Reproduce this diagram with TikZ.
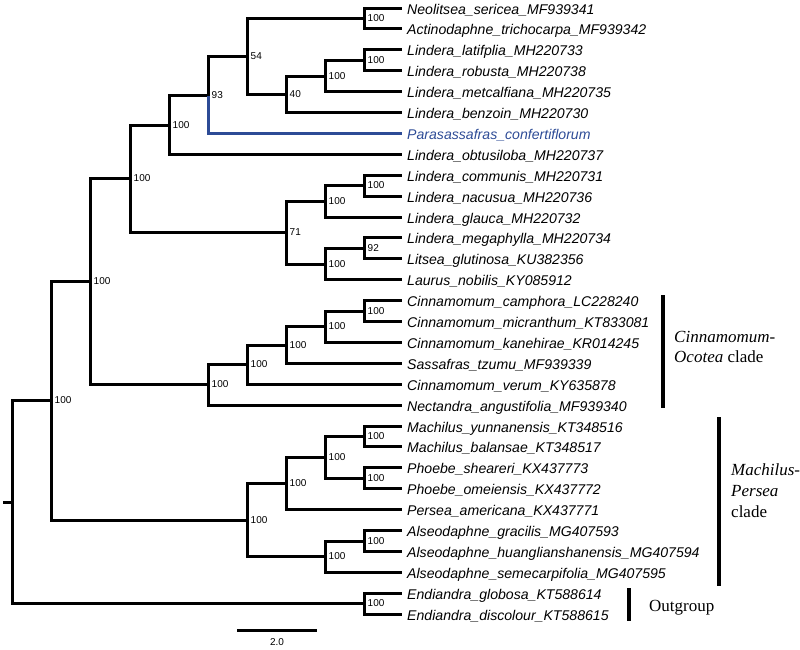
\documentclass[tikz,border=0pt]{standalone}
\usepackage{fontspec}
\setmainfont{Liberation Serif}
\setsansfont{Liberation Sans}
\usepackage{tikz}
\definecolor{paraBlue}{RGB}{45,75,150}
\tikzstyle{branch} = [line width=3pt, draw=black]
\tikzstyle{bluebranch} = [line width=2.2pt, draw=paraBlue]
\tikzstyle{taxon} = [anchor=west, inner xsep=5pt, inner ysep=0pt, text height=12pt, text depth=0pt, font=\sffamily\itshape\fontsize{14.1}{16}\selectfont]
\tikzstyle{support} = [anchor=west, inner sep=0pt, xshift=3pt, font=\sffamily\fontsize{10}{12}\selectfont]
\tikzstyle{cladebar} = [line width=3.5pt, draw=black]
\tikzstyle{cladename} = [anchor=base west, inner sep=0pt, font=\fontsize{17}{20}\selectfont]

\begin{document}
\begin{tikzpicture}[x=1pt, y=-1pt]
\useasboundingbox (0,0) rectangle (800,649);

% taxa
\node (neolitsea) [taxon] at (402,8.5) {Neolitsea\_sericea\_MF939341};
\node (actinodaphne) [taxon] at (402,28.5) {Actinodaphne\_trichocarpa\_MF939342};
\node (latifplia) [taxon] at (402,49.5) {Lindera\_latifplia\_MH220733};
\node (robusta) [taxon] at (402,70.5) {Lindera\_robusta\_MH220738};
\node (metcalfiana) [taxon] at (402,91.5) {Lindera\_metcalfiana\_MH220735};
\node (benzoin) [taxon] at (402,112.5) {Lindera\_benzoin\_MH220730};
\node (parasassafras) [taxon, text=paraBlue] at (402,133.5) {Parasassafras\_confertiflorum};
\node (obtusiloba) [taxon] at (402,154.5) {Lindera\_obtusiloba\_MH220737};
\node (communis) [taxon] at (402,175.5) {Lindera\_communis\_MH220731};
\node (nacusua) [taxon] at (402,196.5) {Lindera\_nacusua\_MH220736};
\node (glauca) [taxon] at (402,217.5) {Lindera\_glauca\_MH220732};
\node (megaphylla) [taxon] at (402,237.5) {Lindera\_megaphylla\_MH220734};
\node (litsea) [taxon] at (402,258.5) {Litsea\_glutinosa\_KU382356};
\node (laurus) [taxon] at (402,279.5) {Laurus\_nobilis\_KY085912};
\node (camphora) [taxon] at (402,300.5) {Cinnamomum\_camphora\_LC228240};
\node (micranthum) [taxon] at (402,321.5) {Cinnamomum\_micranthum\_KT833081};
\node (kanehirae) [taxon] at (402,342.5) {Cinnamomum\_kanehirae\_KR014245};
\node (sassafras) [taxon] at (402,363.5) {Sassafras\_tzumu\_MF939339};
\node (verum) [taxon] at (402,384.5) {Cinnamomum\_verum\_KY635878};
\node (nectandra) [taxon] at (402,405.5) {Nectandra\_angustifolia\_MF939340};
\node (yunnanensis) [taxon] at (402,426.5) {Machilus\_yunnanensis\_KT348516};
\node (balansae) [taxon] at (402,446.5) {Machilus\_balansae\_KT348517};
\node (sheareri) [taxon] at (402,467.5) {Phoebe\_sheareri\_KX437773};
\node (omeiensis) [taxon] at (402,488.5) {Phoebe\_omeiensis\_KX437772};
\node (persea) [taxon] at (402,509.5) {Persea\_americana\_KX437771};
\node (gracilis) [taxon] at (402,530.5) {Alseodaphne\_gracilis\_MG407593};
\node (huanglianshanensis) [taxon] at (402,551.5) {Alseodaphne\_huanglianshanensis\_MG407594};
\node (semecarpifolia) [taxon] at (402,572.5) {Alseodaphne\_semecarpifolia\_MG407595};
\node (globosa) [taxon] at (402,593.5) {Endiandra\_globosa\_KT588614};
\node (discolour) [taxon] at (402,614.5) {Endiandra\_discolour\_KT588615};

% internal nodes
\coordinate (neoAct) at (364.5,18.5);
\coordinate (latRob) at (364.5,60.5);
\coordinate (latMet) at (325.5,76.5);
\coordinate (latBen) at (286.5,94.5);
\coordinate (neoBen) at (247.5,56.5);
\coordinate (neoPara) at (208.5,95.5);
\coordinate (neoObt) at (169.5,125.5);
\coordinate (comNac) at (364.5,185.5);
\coordinate (comGla) at (325.5,201.5);
\coordinate (megLit) at (364.5,248.5);
\coordinate (megLau) at (325.5,264.5);
\coordinate (comLau) at (286.5,232.5);
\coordinate (linderaClade) at (130.5,178.5);
\coordinate (camMic) at (364.5,311.5);
\coordinate (camKan) at (325.5,326.5);
\coordinate (camSas) at (286.5,345.5);
\coordinate (camVer) at (247.5,364.5);
\coordinate (cinnOcotea) at (208.5,384.5);
\coordinate (laurusGroup) at (90.5,281.5);
\coordinate (yunBal) at (364.5,436.5);
\coordinate (sheOme) at (364.5,478.5);
\coordinate (yunOme) at (325.5,457.5);
\coordinate (yunPer) at (286.5,483.5);
\coordinate (graHua) at (364.5,541.5);
\coordinate (graSem) at (325.5,556.5);
\coordinate (machPersea) at (247.5,520.5);
\coordinate (ingroup) at (51.5,400.5);
\coordinate (outgroup) at (364.5,603.5);
\coordinate (root) at (12.5,502.5);
\coordinate (rootStub) at (3,502.5);

% branches
\draw [branch] (rootStub) -- (root);
\draw [branch] (root) |- (ingroup);
\draw [branch] (root) |- (outgroup);
\draw [branch] (outgroup) |- (globosa.west);
\draw [branch] (outgroup) |- (discolour.west);

\draw [branch] (ingroup) |- (laurusGroup);
\draw [branch] (ingroup) |- (machPersea);

\draw [branch] (laurusGroup) |- (linderaClade);
\draw [branch] (laurusGroup) |- (cinnOcotea);

\draw [branch] (linderaClade) |- (neoObt);
\draw [branch] (linderaClade) |- (comLau);
\draw [branch] (neoObt) |- (neoPara);
\draw [branch] (neoObt) |- (obtusiloba.west);
\draw [branch] (neoPara) |- (neoBen);
\draw [bluebranch] (neoPara) |- (parasassafras.west);
\draw [branch] (neoBen) |- (neoAct);
\draw [branch] (neoBen) |- (latBen);
\draw [branch] (neoAct) |- (neolitsea.west);
\draw [branch] (neoAct) |- (actinodaphne.west);
\draw [branch] (latBen) |- (latMet);
\draw [branch] (latBen) |- (benzoin.west);
\draw [branch] (latMet) |- (latRob);
\draw [branch] (latMet) |- (metcalfiana.west);
\draw [branch] (latRob) |- (latifplia.west);
\draw [branch] (latRob) |- (robusta.west);

\draw [branch] (comLau) |- (comGla);
\draw [branch] (comLau) |- (megLau);
\draw [branch] (comGla) |- (comNac);
\draw [branch] (comGla) |- (glauca.west);
\draw [branch] (comNac) |- (communis.west);
\draw [branch] (comNac) |- (nacusua.west);
\draw [branch] (megLau) |- (megLit);
\draw [branch] (megLau) |- (laurus.west);
\draw [branch] (megLit) |- (megaphylla.west);
\draw [branch] (megLit) |- (litsea.west);

\draw [branch] (cinnOcotea) |- (camVer);
\draw [branch] (cinnOcotea) |- (nectandra.west);
\draw [branch] (camVer) |- (camSas);
\draw [branch] (camVer) |- (verum.west);
\draw [branch] (camSas) |- (camKan);
\draw [branch] (camSas) |- (sassafras.west);
\draw [branch] (camKan) |- (camMic);
\draw [branch] (camKan) |- (kanehirae.west);
\draw [branch] (camMic) |- (camphora.west);
\draw [branch] (camMic) |- (micranthum.west);

\draw [branch] (machPersea) |- (yunPer);
\draw [branch] (machPersea) |- (graSem);
\draw [branch] (yunPer) |- (yunOme);
\draw [branch] (yunPer) |- (persea.west);
\draw [branch] (yunOme) |- (yunBal);
\draw [branch] (yunOme) |- (sheOme);
\draw [branch] (yunBal) |- (yunnanensis.west);
\draw [branch] (yunBal) |- (balansae.west);
\draw [branch] (sheOme) |- (sheareri.west);
\draw [branch] (sheOme) |- (omeiensis.west);
\draw [branch] (graSem) |- (graHua);
\draw [branch] (graSem) |- (semecarpifolia.west);
\draw [branch] (graHua) |- (gracilis.west);
\draw [branch] (graHua) |- (huanglianshanensis.west);

% support values
\node (neoActSup) [support] at (neoAct) {100};
\node (latRobSup) [support] at (latRob) {100};
\node (latMetSup) [support] at (latMet) {100};
\node (latBenSup) [support] at (latBen) {40};
\node (neoBenSup) [support] at (neoBen) {54};
\node (neoParaSup) [support] at (neoPara) {93};
\node (neoObtSup) [support] at (neoObt) {100};
\node (comNacSup) [support] at (comNac) {100};
\node (comGlaSup) [support] at (comGla) {100};
\node (megLitSup) [support] at (megLit) {92};
\node (megLauSup) [support] at (megLau) {100};
\node (comLauSup) [support] at (comLau) {71};
\node (linderaCladeSup) [support] at (linderaClade) {100};
\node (camMicSup) [support] at (camMic) {100};
\node (camKanSup) [support] at (camKan) {100};
\node (camSasSup) [support] at (camSas) {100};
\node (camVerSup) [support] at (camVer) {100};
\node (cinnOcoteaSup) [support] at (cinnOcotea) {100};
\node (laurusGroupSup) [support] at (laurusGroup) {100};
\node (yunBalSup) [support] at (yunBal) {100};
\node (sheOmeSup) [support] at (sheOme) {100};
\node (yunOmeSup) [support] at (yunOme) {100};
\node (yunPerSup) [support] at (yunPer) {100};
\node (graHuaSup) [support] at (graHua) {100};
\node (graSemSup) [support] at (graSem) {100};
\node (machPerseaSup) [support] at (machPersea) {100};
\node (ingroupSup) [support] at (ingroup) {100};
\node (outgroupSup) [support] at (outgroup) {100};

% clade bars
\coordinate (cinnTop) at (663,295);
\coordinate (cinnBot) at (663,408);
\draw [cladebar] (cinnTop) -- (cinnBot);
\node (cinnName) [cladename] at (674,342) {\textit{Cinnamomum-}};
\node (ocoteaName) [cladename] at (674,362) {\textit{Ocotea} clade};

\coordinate (machTop) at (719,417);
\coordinate (machBot) at (719,586);
\draw [cladebar] (machTop) -- (machBot);
\node (machName) [cladename] at (731,475) {\textit{Machilus-}};
\node (perseaName) [cladename] at (731,496) {\textit{Persea}};
\node (machClade) [cladename] at (731,517) {clade};

\coordinate (outTop) at (629,588);
\coordinate (outBot) at (629,621);
\draw [cladebar] (outTop) -- (outBot);
\node (outName) [cladename] at (649,611.5) {Outgroup};

% scale bar
\coordinate (scaleLeft) at (237,630.5);
\coordinate (scaleRight) at (317,630.5);
\draw [branch] (scaleLeft) -- (scaleRight);
\node (scaleText) [font=\sffamily\fontsize{10}{12}\selectfont, inner sep=0pt] at (277,642) {2.0};

\end{tikzpicture}
\end{document}
